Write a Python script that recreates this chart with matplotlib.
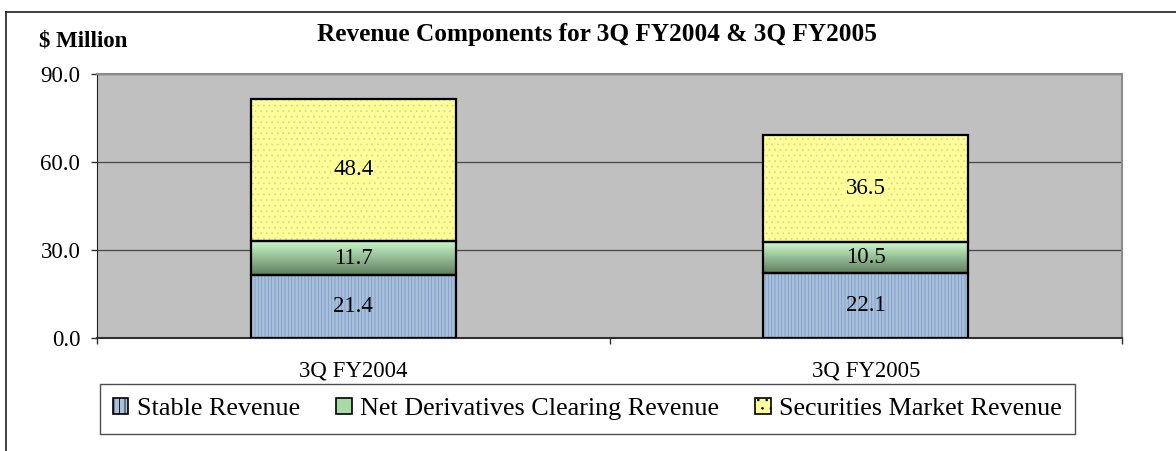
import numpy as np
import matplotlib
matplotlib.use("Agg")
import matplotlib.pyplot as plt
from matplotlib.patches import Patch
from matplotlib.lines import Line2D
from matplotlib.colors import LinearSegmentedColormap

categories = ["3Q FY2004", "3Q FY2005"]
stable = [21.4, 22.1]
derivatives = [11.7, 10.5]
securities = [48.4, 36.5]
series_names = ["Stable Revenue", "Net Derivatives Clearing Revenue", "Securities Market Revenue"]
yticks = [0.0, 30.0, 60.0, 90.0]

plt.rcParams['font.family'] = ['Liberation Serif', 'DejaVu Serif']
plt.rcParams['hatch.linewidth'] = 0.6

W, H = 1176, 451
fig = plt.figure(figsize=(W / 100, H / 100), dpi=100)
ax = fig.add_axes([97 / W, 1 - 338 / H, (1122 - 97) / W, (338 - 74) / H])
ax.set_facecolor('#c0c0c0')

x = np.arange(len(categories)) + 0.5
bw = 0.4
blue_face, blue_hatch = '#a8c0dc', '#7f9cc6'
yel_face, yel_hatch = '#ffff99', '#d9d98a'

# Stable (blue stripes)
ax.bar(x, stable, bw, color=blue_face, edgecolor=blue_hatch, hatch='|||||', linewidth=0, zorder=3)
ax.bar(x, stable, bw, fill=False, edgecolor='black', linewidth=1.6, zorder=5)

# Derivatives (green gradient)
bottom2 = np.array(stable)
bars2 = ax.bar(x, derivatives, bw, bottom=bottom2, color='none', edgecolor='black', linewidth=1.6, zorder=5)
cmap = LinearSegmentedColormap.from_list('g', ['#5e7e5e', '#cdfccd'])
grad = np.linspace(0, 1, 256).reshape(-1, 1)
for b in bars2:
    bx, by = b.get_x(), b.get_y()
    ax.imshow(grad, cmap=cmap, origin='lower', aspect='auto',
              extent=[bx, bx + b.get_width(), by, by + b.get_height()], zorder=3)

# Securities (yellow dots)
bottom3 = np.array(stable) + np.array(derivatives)
ax.bar(x, securities, bw, bottom=bottom3, color=yel_face, edgecolor=yel_hatch, hatch='...', linewidth=0, zorder=3)
ax.bar(x, securities, bw, bottom=bottom3, fill=False, edgecolor='black', linewidth=1.6, zorder=5)

lab_fs = 16.5
for i in range(len(categories)):
    ax.text(x[i], stable[i] / 2, f"{stable[i]:.1f}", ha='center', va='center', fontsize=lab_fs, zorder=6)
    ax.text(x[i], bottom2[i] + derivatives[i] / 2, f"{derivatives[i]:.1f}", ha='center', va='center', fontsize=lab_fs, zorder=6)
    ax.text(x[i], bottom3[i] + securities[i] / 2, f"{securities[i]:.1f}", ha='center', va='center', fontsize=lab_fs, zorder=6,
            bbox=dict(facecolor=yel_face, edgecolor='none', pad=1.5))

ax.set_xlim(0, len(categories))
ax.set_ylim(0, 90)
ax.set_yticks(yticks)
ax.set_yticklabels([f"{v:.1f}" for v in yticks], fontsize=16.5)
ax.yaxis.grid(True, color='#505050', linewidth=1.0, zorder=1)
ax.set_axisbelow(True)
ax.tick_params(axis='y', length=4.5, width=1, color='#303030', pad=7.5)

ax.set_xticks([0, 1, 2])
ax.set_xticklabels([])
ax.set_xticks(x, minor=True)
ax.set_xticklabels(categories, minor=True, fontsize=16.5)
ax.tick_params(axis='x', which='major', length=4.5, width=1, color='#303030')
ax.tick_params(axis='x', which='minor', length=0, pad=16)

ax.spines['top'].set_color('#8a8a8a')
ax.spines['right'].set_color('#8a8a8a')
ax.spines['top'].set_linewidth(1.5)
ax.spines['right'].set_linewidth(1.5)
ax.spines['left'].set_color('#202020')
ax.spines['bottom'].set_color('#303030')
ax.spines['bottom'].set_linewidth(1.5)

# Legend
handles = [
    Patch(facecolor=blue_face, edgecolor='black', hatch='|||', linewidth=1.2),
    Patch(facecolor='#a9dba9', edgecolor='black', linewidth=1.2),
    Patch(facecolor=yel_face, edgecolor='black', hatch='..', linewidth=1.2),
]
leg = fig.legend(handles, series_names, loc='center', ncol=3,
                 bbox_to_anchor=((97 + 1078) / 2 / W, 1 - 409 / H),
                 fontsize=18.8, frameon=True, fancybox=False,
                 handlelength=0.58, handleheight=0.58, handletextpad=0.32,
                 columnspacing=1.4, borderpad=0.52, borderaxespad=0.0)
leg.get_frame().set_edgecolor('#202020')
leg.get_frame().set_linewidth(1.0)

# Title and unit label
fig.text(597 / W, 1 - 34 / H, "Revenue Components for 3Q FY2004 & 3Q FY2005",
         ha='center', va='center', fontsize=18.2, fontweight='bold')
fig.text(39 / W, 1 - 41 / H, "$ Million", ha='left', va='center', fontsize=16.5, fontweight='bold')

# Outer frame (left and top edges visible)
fig.add_artist(Line2D([6 / W, 6 / W], [0, 1 - 12 / H], transform=fig.transFigure, color='#202020', linewidth=1.2))
fig.add_artist(Line2D([6 / W, 1], [1 - 12 / H, 1 - 12 / H], transform=fig.transFigure, color='#202020', linewidth=1.2))

fig.savefig('out.png', dpi=100)
